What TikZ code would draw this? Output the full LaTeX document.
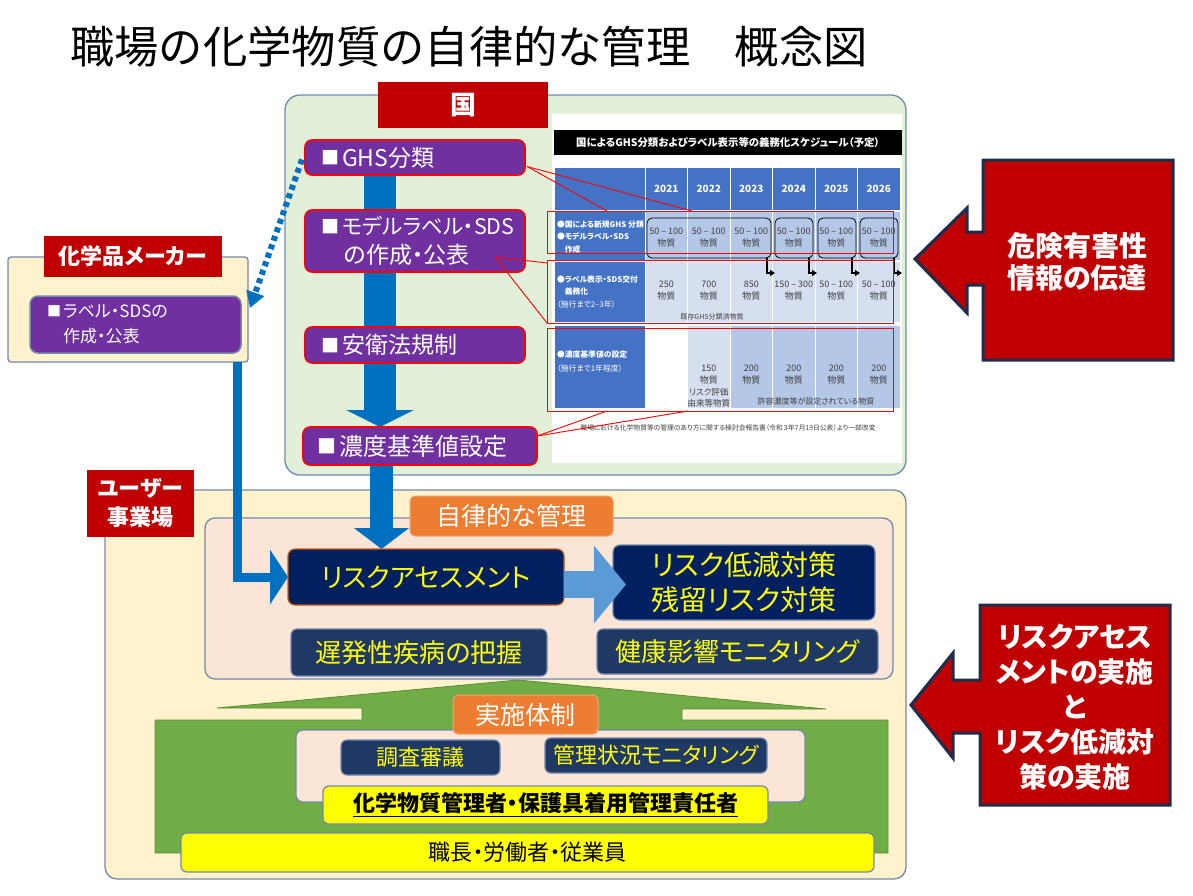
\documentclass[tikz,border=0pt]{standalone}
\usepackage{fontspec}
\setmainfont{Noto Sans CJK JP}[RawFeature=+palt]
\newfontfamily\titlefont{Noto Sans CJK JP}
\usetikzlibrary{arrows.meta,calc}
\definecolor{cred}{HTML}{C00000}
\definecolor{cpurple}{HTML}{7030A0}
\definecolor{cblue}{HTML}{0070C0}
\definecolor{clgreen}{HTML}{E2F0D9}
\definecolor{ccream}{HTML}{FFF2CC}
\definecolor{cpeach}{HTML}{FBE5D6}
\definecolor{cnavy}{HTML}{002060}
\definecolor{cslate}{HTML}{1F3864}
\definecolor{corange}{HTML}{ED7D31}
\definecolor{cgreen}{HTML}{70AD47}
\definecolor{clblue}{HTML}{5B9BD5}
\definecolor{cyellow}{HTML}{FFFF00}
\definecolor{cbord}{HTML}{7189AB}
\definecolor{cdark}{HTML}{1F2D4A}
\definecolor{tblue}{HTML}{4472C4}
\definecolor{tmid}{HTML}{B4C7E7}
\definecolor{tlight}{HTML}{D6DFF0}
\definecolor{tgray}{HTML}{404040}
\definecolor{cbrown}{HTML}{C55A11}
\pgfdeclarelayer{bg}\pgfdeclarelayer{mid}
\pgfsetlayers{bg,mid,main}
\newcommand\fs[2]{\fontsize{#1}{#2}\selectfont}
\newcommand\myul[1]{\setbox0\hbox{#1}\rlap{\vrule width\wd0 height -4pt depth 5.6pt}\box0}
\newcommand\sq[2]{\raisebox{#2}{\fs{#1}{#1}■}}
\begin{document}
\begin{tikzpicture}[x=1pt,y=-1pt,
  every node/.style={inner sep=0pt,outer sep=0pt},
  container/.style={draw=cbord,line width=1.3},
  redlabel/.style={fill=cred,text=white,font=\bfseries\fs{22}{29},align=center},
  purplebox/.style={fill=cpurple,draw=red,line width=1.6,rounded corners=7},
  ptext/.style={anchor=west,text=white,align=left,font=\fs{23}{29}},
  navybox/.style={fill=cnavy,draw=cbord,line width=1.2,rounded corners=7,text=cyellow,align=center,font=\fs{28}{35}},
  slatebox/.style={fill=cslate,draw=cbord,line width=1.2,rounded corners=6,text=cyellow,align=center},
  orangelabel/.style={fill=corange,draw=corange!70!white,line width=1,rounded corners=5,text=white,font=\fs{25}{30}},
  yellowbox/.style={fill=cyellow,draw=cbord,line width=1.2,rounded corners=6,text=black},
  bigred/.style={fill=cred,draw=cdark,line width=3,line join=miter},
  redtext/.style={text=white,font=\bfseries\fs{28}{35},align=center},
  callout/.style={red,line width=0.9},
  redrect/.style={draw=red,line width=0.9,minimum width=346},
  tcell/.style={minimum width=41.5},
  tleft/.style={fill=tblue,minimum width=89.5},
  ttext/.style={text=tgray,align=center,font=\fs{9}{12}},
  tltext/.style={anchor=west,text=white,align=left,font=\bfseries\fs{7.8}{12.5}},
  rbox/.style={draw=black,line width=0.8,rounded corners=5,minimum height=40},
]
\useasboundingbox (0,0) rectangle (1193,895);
\coordinate (ax1) at (380,0);
\coordinate (ax2) at (381.5,0);
\coordinate (lx) at (237,0);
\coordinate (ay) at (0,584.5);

\begin{pgfonlayer}{bg}
\node[container,fill=clgreen,rounded corners=15,minimum width=621,minimum height=380] (kuni) at (595.5,285) {};
\node[container,fill=ccream,rounded corners=3,minimum width=240,minimum height=105] (maker) at (128,309.5) {};
\node[container,fill=ccream,rounded corners=12,minimum width=801,minimum height=389] (user) at (505.5,684.5) {};
\node[container,fill=cpeach,rounded corners=10,minimum width=688,minimum height=161] (jiritsu) at (549,598.5) {};
\draw[fill=cgreen,draw=cgreen!80!black,line width=0.8,line join=miter] (518,680) -- (826,709) -- (682,709) -- (682,720) -- (888,720) -- (888,853) -- (155,853) -- (155,720) -- (362,720) -- (362,708) -- (217,708) -- cycle;
\node[container,fill=cpeach,rounded corners=7,minimum width=509,minimum height=72] (jisshibox) at (550.5,766) {};
\end{pgfonlayer}

% title
\node[font=\titlefont\fs{44.3}{44}] (title) at (469,47) {職場の化学物質の自律的な管理　概念図};

% labels
\node[redlabel,font=\bfseries\fs{26}{30},minimum width=170,minimum height=46] (kunilabel) at (463,105) {国};
\node[redlabel,minimum width=178,minimum height=41] (makerlabel) at (133,256.5) {化学品メーカー};
\node[redlabel,minimum width=107,minimum height=67] (userlabel) at (140.5,503.5) {ユーザー\\事業場};

% purple boxes
\node[purplebox,minimum width=220,minimum height=35] (ghs) at (415,157.5) {};
\node[ptext] (ghs-t) at ($(ghs.west)+(16,0)$) {\sq{18}{1.5pt}\hspace{3pt}GHS分類};
\node[purplebox,minimum width=220,minimum height=62] (model) at (415,241) {};
\node[ptext] (model-t) at ($(model.west)+(16,0)$) {\sq{18}{1.5pt}\hspace{3pt}{\fs{21.5}{29}モデルラベル・SDS}\\\hspace{23pt}の作成・公表};
\node[purplebox,minimum width=220,minimum height=36] (aneihou) at (415,345) {};
\node[ptext] (aneihou-t) at ($(aneihou.west)+(16,0)$) {\sq{18}{1.5pt}\hspace{3pt}安衛法規制};
\node[purplebox,minimum width=234,minimum height=38] (noudo) at (420,446) {};
\node[ptext,font=\fs{24}{29}] (noudo-t) at ($(noudo.west)+(14,0)$) {\sq{19}{1.5pt}\hspace{3pt}濃度基準値設定};
\node[fill=cpurple,draw=cbord,line width=1.5,rounded corners=8,minimum width=211,minimum height=57] (mpurple) at (135.5,324.5) {};
\node[ptext,font=\fs{17}{25}] (mpurple-t) at ($(mpurple.west)+(17,0)$) {\sq{14}{1pt}\hspace{2pt}ラベル・SDSの\\\hspace{16pt}作成・公表};

% user area
\node[orangelabel,minimum width=203,minimum height=40] (jiritsulabel) at (511.5,516) {自律的な管理};
\node[navybox,draw=cbrown,font=\fs{26.5}{35},minimum width=276,minimum height=56] (risk) at (426,577) {リスクアセスメント};
\node[navybox,minimum width=262,minimum height=75] (reduce) at (744,582.5) {リスク低減対策\\残留リスク対策};
\node[slatebox,font=\fs{26}{30},minimum width=256,minimum height=47] (chihatsu) at (419,652.5) {遅発性疾病の把握};
\node[slatebox,font=\fs{26}{30},minimum width=281,minimum height=45] (kenkou) at (737.5,651.5) {健康影響モニタリング};
\node[orangelabel,minimum width=145,minimum height=39] (jisshilabel) at (525.5,714.5) {実施体制};
\node[slatebox,font=\fs{22}{26},minimum width=159,minimum height=35] (chousa) at (420.5,757.5) {調査審議};
\node[slatebox,font=\fs{22}{26},minimum width=222,minimum height=35] (kanri) at (656,755.5) {管理状況モニタリング};
\node[yellowbox,font=\bfseries\fs{22}{26},minimum width=445,minimum height=38] (yellow1) at (545.5,805) {\myul{化学物質管理者・保護具着用管理責任者}};
\node[yellowbox,font=\fs{22}{26},minimum width=693,minimum height=39] (yellow2) at (527.5,852.5) {職長・労働者・従業員};

% arrows (behind boxes)
\begin{pgfonlayer}{mid}
\draw[cblue,line width=32,-{Triangle[width=67,length=17]}] (ghs.south -| ax1) -- (noudo.north -| ax1);
\draw[cblue,line width=23,-{Triangle[width=54,length=21]}] (noudo.south -| ax2) -- (risk.north -| ax2);
\draw[cblue,line width=9,-{Triangle[width=54,length=18]}] (maker.south -| lx) |- (risk.west);
\end{pgfonlayer}
\draw[clblue,line width=27,-{Triangle[width=76,length=32]}] (risk.east |- ay) -- ($(reduce.west |- ay)+(13,0)$);
\draw[cblue,line width=6,dash pattern=on 5pt off 4pt,-{Triangle[width=18,length=16]}] ($(ghs.west)+(-3,2)$) -- ($(mpurple.north east)+(9,12)$);

% table
\node[fill=white,minimum width=350,minimum height=349] (tbl) at (727,288.5) {};
\node[fill=black,minimum width=348,minimum height=25,text=white,font=\bfseries\fs{10.4}{11}] (ttitle) at (728,142.5) {国によるGHS分類およびラベル表示等の義務化スケジュール（予定）};
\node[tleft,minimum height=42] (hl) at (599.75,189) {};
\node[tleft,minimum height=48] (r1l) at (599.75,236) {};
\node[tleft,minimum height=60] (r2l) at (599.75,292) {};
\node[tleft,minimum height=82] (r3l) at (599.75,367) {};
\foreach \yr [count=\i from 0] in {2021,2022,2023,2024,2025,2026}{
  \node[tcell,fill=tblue,minimum height=42,text=white,font=\bfseries\fs{10}{10}] (h\i) at ({666.25+42.5*\i},189) {\yr};
  \node[tcell,fill=tmid,minimum height=48] (r1c\i) at ({666.25+42.5*\i},236) {};
  \node[tcell,fill=tlight,minimum height=60] (r2c\i) at ({666.25+42.5*\i},292) {};
  \node[ttext] (r1t\i) at ({666.25+42.5*\i},238) {50 – 100\\物質};
}
\foreach \v [count=\i from 0] in {250,700,850,150 – 300,50 – 100,50 – 100}{
  \node[ttext] (r2t\i) at ({666.25+42.5*\i},291) {\v\\物質};
}
\node[tcell,fill=tlight,minimum height=82] (r3c1) at (708.75,367) {};
\foreach \i in {2,...,5}{
  \node[tcell,fill=tmid,minimum height=82] (r3c\i) at ({666.25+42.5*\i},367) {};
  \node[ttext] (r3t\i) at ({666.25+42.5*\i},375) {200\\物質};
}
\node[ttext] (r3t1) at (708.75,375) {150\\物質};
\node[ttext,font=\fs{8.5}{10.5}] (r3n1) at (708.75,398) {リスク評価\\由来等物質};
\node[ttext,font=\fs{8}{10}] (r3n2) at (816,401) {許容濃度等が設定されている物質};
\node[ttext,font=\fs{7}{8}] (r2n) at (712,317) {既存GHS分類済物質};
\node[tltext] (r1lt) at (557,237) {●国による新規GHS 分類\\●モデルラベル・SDS\\\phantom{●}作成};
\node[tltext] (r2lt) at (557,292) {●ラベル表示・SDS交付\\\phantom{●}義務化\\{\mdseries（施行まで2–3年）}};
\node[tltext,font=\bfseries\fs{7.8}{14}] (r3lt) at (557,362) {●濃度基準値の設定\\{\mdseries（施行まで1年程度）}};
\node[rbox,minimum width=124] (rb1) at (709,238) {};
\node[rbox,minimum width=38] (rb2) at (794,238) {};
\node[rbox,minimum width=38] (rb3) at (837,238) {};
\node[rbox,minimum width=38] (rb4) at (879,238) {};
\foreach \n in {1,...,4}{
  \draw[line width=1.8,-{Triangle[width=6,length=5]}] ($(rb\n.south east)+(-4,0)$) -- ++(0,15) -- ++(8,0);
}
\node[ttext,font=\fs{6.8}{8}] (tcap) at (728,428) {職場における化学物質等の管理のあり方に関する検討会報告書（令和３年7月19日公表）より一部改変};
\node[redrect,minimum height=42] (redA) at (720,232) {};
\node[redrect,minimum height=63] (redB) at (720,291.5) {};
\node[redrect,minimum height=83] (redC) at (720,369.5) {};
\draw[callout] ($(ghs.east)+(2,9)$) -- ($(redA.north west)+(60,0)$);
\draw[callout] ($(ghs.east)+(2,9)$) -- ($(redA.north west)+(145,0)$);
\draw[callout] ($(model.south east)+(-30,-15)$) -- ($(redB.north west)+(0,3)$);
\draw[callout] ($(model.south east)+(-30,-15)$) -- (redB.south west);
\draw[callout] ($(noudo.east)+(0,-10)$) -- ($(redC.south west)+(60,0)$);
\draw[callout] ($(noudo.east)+(0,-10)$) -- ($(redC.south west)+(141,0)$);

% big red arrows
\draw[bigred] (983,160) -- (1173,160) -- (1173,360) -- (983,360) -- (983,285) -- (967,285) -- (967,313) -- (915,259) -- (967,208) -- (967,232) -- (983,232) -- cycle;
\node[redtext,font=\bfseries\fs{28}{32}] (danger) at (1077,262) {危険有害性\\情報の伝達};
\draw[bigred] (980,605) -- (1170,605) -- (1170,805) -- (980,805) -- (980,733) -- (953,733) -- (953,758) -- (911,705) -- (953,653) -- (953,680) -- (980,680) -- cycle;
\node[redtext] (implement) at (1075,707) {リスクアセス\\メントの実施\\と\\リスク低減対\\策の実施};
\end{tikzpicture}
\end{document}
